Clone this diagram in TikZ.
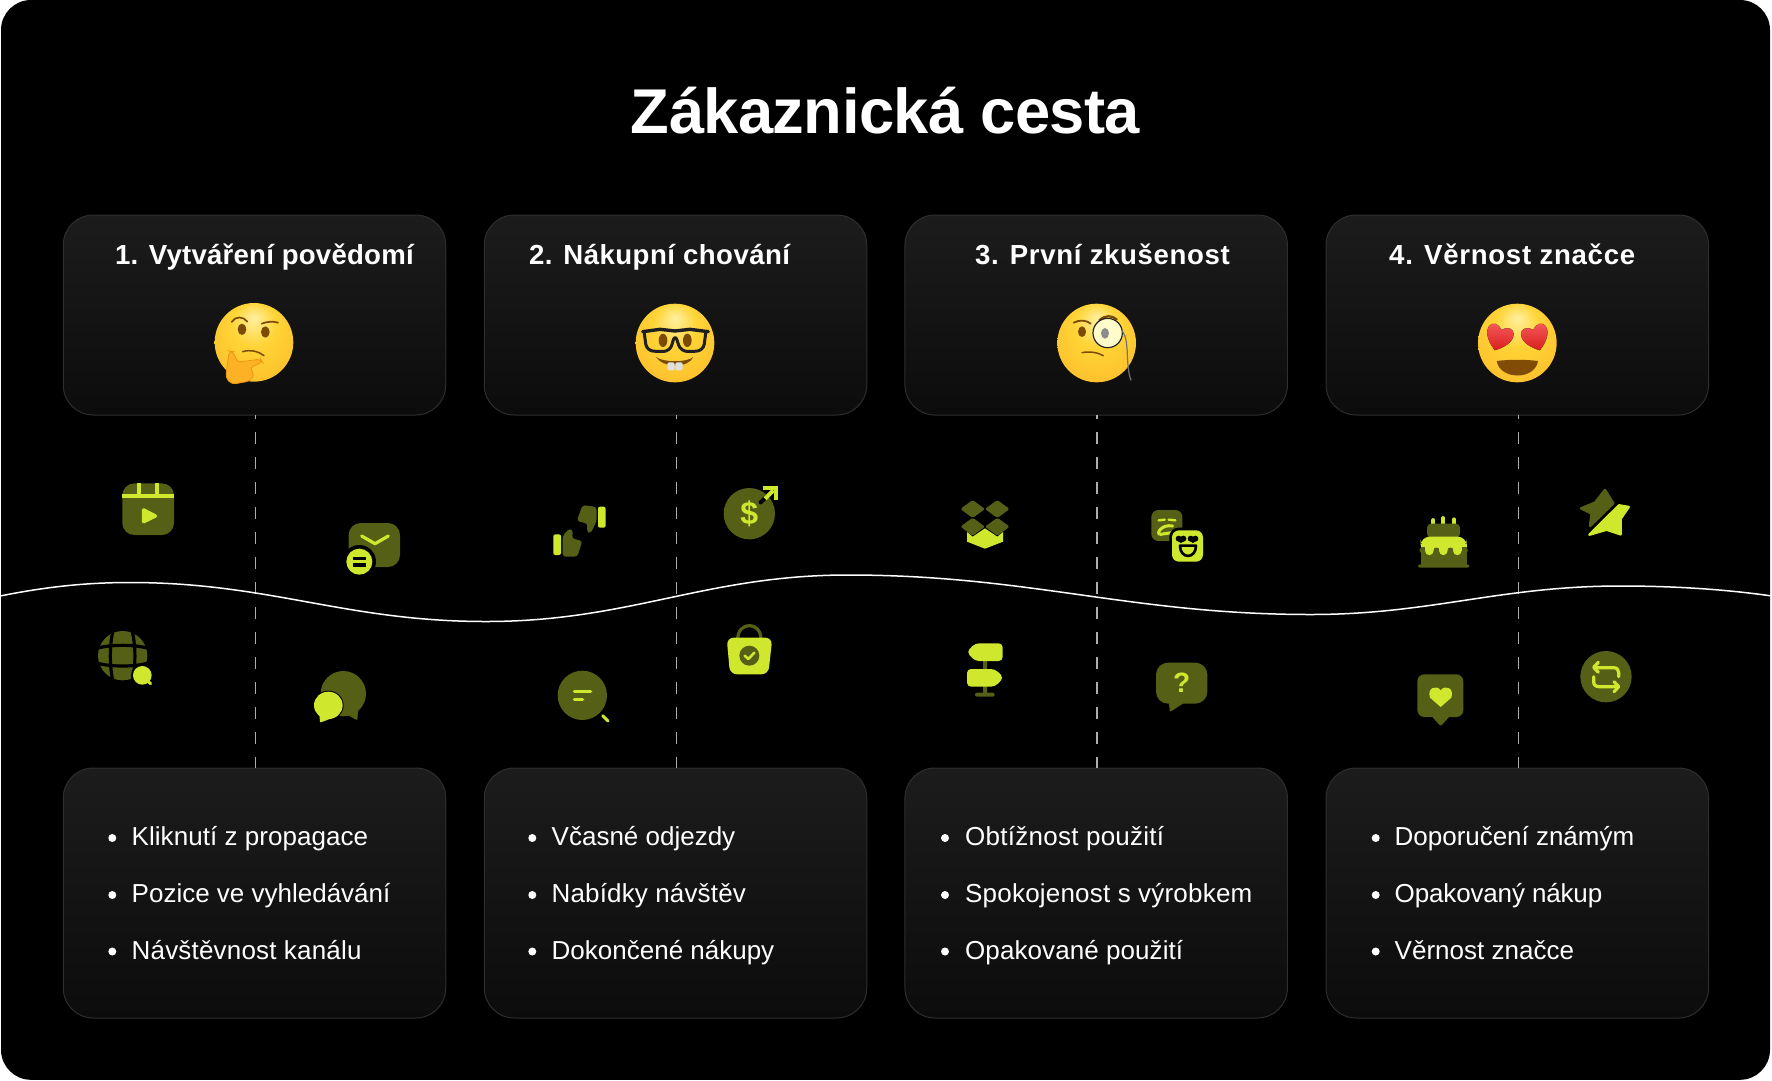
\documentclass[tikz,border=0pt]{standalone}
\usepackage{fontspec}
\setmainfont{Liberation Sans}
\definecolor{dk}{HTML}{555F16}
\definecolor{lm}{HTML}{CFE82E}
\definecolor{cardtop}{HTML}{1C1C1C}
\definecolor{cardbot}{HTML}{0C0C0C}
\definecolor{cardline}{HTML}{2E2E2E}
\definecolor{brownE}{HTML}{7A4A06}
\definecolor{handY}{HTML}{FCB224}
\definecolor{emoL}{HTML}{FFF0A0}
\definecolor{emoA}{HTML}{FFD436}
\definecolor{emoB}{HTML}{FDBE2C}
\definecolor{emoC}{HTML}{F0960F}
\definecolor{emoD}{HTML}{CF7008}
\definecolor{hearttop}{HTML}{FF6A6A}
\definecolor{heartbot}{HTML}{D81E1E}
\pgfdeclareradialshading{emo}{\pgfpoint{0bp}{16bp}}{
  color(0bp)=(emoL);
  color(14bp)=(emoA);
  color(34bp)=(emoB);
  color(46bp)=(emoC);
  color(50bp)=(emoD)}
\tikzset{
  zs/.style={x=0.33333pt,y=-0.33333pt},
  card/.style={draw=cardline,line width=1pt,rounded corners=30pt,top color=cardtop,bottom color=cardbot,inner sep=0pt,outer sep=0pt,minimum width=382.5pt},
  toptitle/.style={anchor=base west,inner sep=0pt,text=white,font=\fontsize{27.6}{32}\selectfont\bfseries},
  item/.style={anchor=base west,inner sep=0pt,text=white,font=\fontsize{26}{32}\selectfont},
  dashline/.style={draw=white!68!black,line width=1.5pt,dash pattern=on 12pt off 13pt,dash phase=8pt},
  lmline/.style={draw=lm,line width=3.2pt,line cap=round,line join=round},
  dkline/.style={draw=dk,line width=3.2pt,line cap=round,line join=round},
  blkline/.style={draw=black,line width=3.2pt,line cap=round,line join=round},
  emoji/.style={shading=emo},
}
\newcommand{\heartp}{(0,44) .. controls (-72,-5) and (-32,-56) .. (0,-20) .. controls (32,-56) and (72,-5) .. (0,44) -- cycle}
\newcommand{\ls}[2]{{\addfontfeature{LetterSpace=#1}#2}}
\begin{document}
\begin{tikzpicture}[x=1pt,y=-1pt]
\useasboundingbox (0,-1) rectangle (1772,1079);
\fill[white] (0,-1) rectangle (1772,1079);
\fill[black,rounded corners=30pt] (1,-1) rectangle (1770,1078.8);

\node[anchor=base,inner sep=0pt,text=white,font=\fontsize{63.3}{72}\selectfont\bfseries] (title) at (885.5,132) {\ls{-0.9}{Zákaznická cesta}};

% cards
\node[card,minimum height=200pt] (t1) at (254.5,314) {};
\node[card,minimum height=200pt] (t2) at (675.5,314) {};
\node[card,minimum height=200pt] (t3) at (1096.2,314) {};
\node[card,minimum height=200pt] (t4) at (1517.3,314) {};
\node[card,minimum height=250pt] (b1) at (254.5,892) {};
\node[card,minimum height=250pt] (b2) at (675.5,892) {};
\node[card,minimum height=250pt] (b3) at (1096.2,892) {};
\node[card,minimum height=250pt] (b4) at (1517.3,892) {};

% dashed connectors
\foreach \i in {1,2,3,4}{
  \draw[dashline] ([xshift=1pt]t\i.south) -- ([xshift=1pt]b\i.north);
}

% wave
\coordinate (w0) at (0,595);
\coordinate (w1) at (130,581.5);
\coordinate (w2) at (486,620.5);
\coordinate (w3) at (848,574);
\coordinate (w4) at (1311,613.5);
\coordinate (w5) at (1620,585);
\coordinate (w6) at (1772,595);
\draw[white,line width=1.5pt] (w0) .. controls (45,586) and (85,581.5) .. (w1)
  .. controls (270,581.5) and (345,620.5) .. (w2)
  .. controls (630,620.5) and (705,574) .. (w3)
  .. controls (1030,574) and (1130,613.5) .. (w4)
  .. controls (1430,613.5) and (1500,585) .. (w5)
  .. controls (1680,585) and (1730,589) .. (w6);

% titles
\node[toptitle] (tt1) at (115,263.5) {\ls{0.8}{1. Vytváření povědomí}};
\node[toptitle] (tt2) at (529,263.5) {\ls{1.6}{2. Nákupní chování}};
\node[toptitle] (tt3) at (975,263.5) {\ls{2.3}{3. První zkušenost}};
\node[toptitle] (tt4) at (1389,263.5) {\ls{2.6}{4. Věrnost značce}};

% bullet lists
\foreach \xb/\xt/\a/\b/\c [count=\n] in {
  112.3/131.5/\ls{0.2}{Kliknutí z propagace}/Pozice ve vyhledávání/\ls{0.7}{Návštěvnost kanálu},
  532.3/551.5/Včasné odjezdy/\ls{0.6}{Nabídky návštěv}/Dokončené nákupy,
  945/965/\ls{1.0}{Obtížnost použití}/\ls{0.8}{Spokojenost s výrobkem}/\ls{0.3}{Opakované použití},
  1375.7/1394.5/\ls{-0.1}{Doporučení známým}/\ls{-0.6}{Opakovaný nákup}/\ls{0.1}{Věrnost značce}}{
  \fill[white] (\xb,837) circle[radius=4];
  \fill[white] (\xb,894) circle[radius=4];
  \fill[white] (\xb,950.5) circle[radius=4];
  \node[item] (i\n a) at (\xt,844.5) {\a};
  \node[item] (i\n b) at (\xt,901.5) {\b};
  \node[item] (i\n c) at (\xt,958.5) {\c};
}

% ---------- emoji 1
\begin{scope}[shift={(50,200)},zs]
\fill[emoji] (612,424) circle[radius=118];
\draw[brownE,line width=1.7pt,line cap=round] (545,363) .. controls (555,345) and (580,345) .. (592,362);
\draw[brownE,line width=1.7pt,line cap=round] (635,368) .. controls (650,362) and (670,360) .. (684,365);
\fill[brownE] (576,385) ellipse[x radius=13,y radius=17];
\fill[brownE] (646,393) ellipse[x radius=13,y radius=17];
\draw[brownE,line width=1.5pt,line cap=round] (578,452) .. controls (600,445) and (625,450) .. (642,464);
\filldraw[fill=handY,draw=emoC,line width=.8pt,rounded corners=4pt] (538,450) -- (550,452) -- (562,484) -- (632,474) -- (638,484) -- (598,500) -- (614,520) -- (600,540) -- (545,550) -- (527,530) -- (532,490) -- cycle;
\end{scope}
% ---------- emoji 2
\begin{scope}[shift={(620,290)},zs]
\fill[emoji] (165,156) circle[radius=118];
\fill[brownE] (129,148) ellipse[x radius=13,y radius=20];
\fill[brownE] (202,148) ellipse[x radius=13,y radius=20];
\draw[black!88,line width=3pt,rounded corners=7pt,line join=round] (72,120) -- (80,180) -- (150,182) -- (165,128) -- (182,182) -- (250,180) -- (258,120);
\draw[black!88,line width=3.4pt,line cap=round] (68,122) -- (120,115) -- (165,120) -- (210,115) -- (265,122);
\fill[brownE] (108,198) .. controls (130,215) and (200,215) .. (220,198) .. controls (205,232) and (130,232) .. (108,198) -- cycle;
\fill[white!88!black,rounded corners=2pt] (142,214) rectangle (164,238);
\fill[white!88!black,rounded corners=2pt] (166,214) rectangle (188,238);
\end{scope}
% ---------- emoji 3
\begin{scope}[shift={(620,290)},zs]
\fill[emoji] (1430,156) circle[radius=118];
\fill[brownE] (1386,122) ellipse[x radius=12,y radius=16];
\draw[brownE,line width=1.8pt,line cap=round] (1361,95) .. controls (1380,85) and (1400,88) .. (1412,98);
\draw[brownE,line width=2.2pt,line cap=round] (1438,88) .. controls (1455,72) and (1475,72) .. (1490,85);
\filldraw[fill=white!80!yellow,draw=black!85,line width=1.2pt] (1463,126) circle[radius=44];
\fill[black!45] (1455,127) ellipse[x radius=12,y radius=16];
\draw[black!55,line width=1.2pt] (1507,120) .. controls (1530,150) and (1515,220) .. (1533,268);
\draw[brownE,line width=1.5pt,line cap=round] (1386,185) .. controls (1410,180) and (1435,185) .. (1450,194);
\end{scope}
% ---------- emoji 4
\begin{scope}[shift={(1460,290)},zs]
\fill[emoji] (172,156) circle[radius=118];
\begin{scope}[shift={(118,136)},rotate=-18]
\fill[top color=hearttop,bottom color=heartbot] \heartp;
\end{scope}
\begin{scope}[shift={(226,136)},rotate=18]
\fill[top color=hearttop,bottom color=heartbot] \heartp;
\end{scope}
\fill[brownE!95!orange] (110,210) .. controls (150,205) and (195,205) .. (234,210) .. controls (225,268) and (120,268) .. (110,210) -- cycle;
\end{scope}

% ---------- column 1 icons
\begin{scope}[shift={(80,460)},zs]
% reel
\fill[dk,rounded corners=12pt] (127,67) rectangle (282,222);
\fill[lm] (127,100) rectangle (282,111);
\fill[lm] (172,67) rectangle (183,100);
\fill[lm] (226,67) rectangle (237,100);
\filldraw[lm,line width=3.5pt,line join=round] (191,147) -- (226,165) -- (191,182) -- cycle;
% mail
\fill[dk,rounded corners=12pt] (806,186) rectangle (960,318);
\draw[lmline] (845,225) -- (885,248) -- (925,225);
\fill[black] (838,302) circle[radius=50];
\fill[lm] (838,302) circle[radius=39];
\draw[blkline,line cap=butt] (818,292) -- (858,292);
\draw[blkline,line cap=butt] (818,312) -- (858,312);
% globe
\fill[dk] (128,584) circle[radius=74];
\draw[blkline,line cap=butt] (100,505) .. controls (88,550) and (88,620) .. (100,665);
\draw[blkline,line cap=butt] (155,505) .. controls (168,550) and (168,620) .. (155,665);
\draw[blkline,line cap=butt] (50,562) .. controls (90,550) and (165,550) .. (205,562);
\draw[blkline,line cap=butt] (50,606) .. controls (90,618) and (165,618) .. (205,606);
\fill[black] (187,643) circle[radius=34];
\fill[lm] (187,643) circle[radius=28];
\draw[lm,line width=3pt,line cap=round] (203,660) -- (212,668);
% chat
\fill[dk] (790,698) circle[radius=68];
\fill[dk,rounded corners=1pt] (790,755) -- (832,778) -- (835,740) -- cycle;
\fill[black] (745,733) ellipse[x radius=46,y radius=44];
\fill[lm] (745,733) ellipse[x radius=43,y radius=41];
\fill[lm,rounded corners=1pt] (718,755) -- (720,785) -- (765,768) -- cycle;
\end{scope}

% ---------- column 2 icons
\begin{scope}[shift={(520,460)},zs]
% thumbs
\fill[lm,rounded corners=2pt] (100,220) rectangle (123,282);
\fill[dk,rounded corners=3pt] (128,225) -- (148,202) -- (160,210) -- (155,232) -- (187,240) -- (172,287) -- (128,287) -- cycle;
\fill[lm,rounded corners=2pt] (234,137) rectangle (257,200);
\fill[dk,rounded corners=3pt] (230,180) -- (212,217) -- (200,212) -- (203,188) -- (170,180) -- (188,132) -- (230,138) -- cycle;
% dollar
\fill[dk] (688,158) circle[radius=77];
\draw[black,line width=4pt,line cap=round] (722,124) -- (760,88);
\draw[lm,line width=4pt] (735,113) -- (760,88);
\draw[lm,line width=4.2pt] (730,80) -- (768,80) -- (768,117);
\node[inner sep=0pt,text=lm,font=\fontsize{32}{32}\selectfont\bfseries] (dollar) at (688,158) {\$};
% bag
\draw[dkline,line cap=butt] (653,535) .. controls (653,480) and (723,480) .. (723,535);
\fill[lm,rounded corners=7pt] (620,530) -- (757,530) -- (745,640) -- (630,640) -- cycle;
\fill[dk] (688,584) circle[radius=30];
\draw[lm,line width=2.6pt,line cap=round,line join=round] (674,584) -- (685,594) -- (703,575);
% magnifier
\fill[dk] (187,703) circle[radius=74];
\draw[lmline] (163,691) -- (212,691);
\draw[lmline] (163,715) -- (188,715);
\draw[lm,line width=3pt,line cap=round] (248,764) -- (264,780);
\end{scope}

% ---------- column 3 icons
\begin{scope}[shift={(930,470)},zs]
\fill[lm,line join=round] (111,183) -- (128,197) -- (165,172) -- (202,197) -- (219,183) -- (219,212) -- (165,233) -- (111,212) -- cycle;
\foreach \cx/\cy in {128/114,202/114,128/167,202/167}{
  \fill[dk,rounded corners=1.5pt] (\cx-37,\cy) -- (\cx,\cy-27) -- (\cx+37,\cy) -- (\cx,\cy+27) -- cycle;
}
% faces
\fill[dk,rounded corners=7pt] (664,117) rectangle (757,210);
\draw[lm,line width=2.4pt,line cap=round] (686,148) -- (704,146);
\draw[lm,line width=2.4pt,line cap=round] (716,146) -- (736,148);
\draw[lm,line width=3pt,line cap=round] (728,165) .. controls (695,158) and (675,190) .. (692,190) -- (725,185);
\fill[black,rounded corners=9pt] (718,170) rectangle (827,280);
\fill[lm,rounded corners=7pt] (726,178) rectangle (819,272);
\fill[black] (746,203) circle[radius=9];
\fill[black] (760,203) circle[radius=9];
\fill[black] (753,216) -- (738,206) -- (768,206) -- cycle;
\fill[black] (782,203) circle[radius=9];
\fill[black] (796,203) circle[radius=9];
\fill[black] (789,216) -- (774,206) -- (804,206) -- cycle;
\filldraw[draw=black,fill=lm,line width=2.6pt,line join=round] (750,224) -- (798,224) .. controls (798,265) and (750,265) .. (750,224) -- cycle;
% sign
\fill[dk,rounded corners=1pt] (159,565) rectangle (171,600);
\fill[dk,rounded corners=1pt] (159,640) rectangle (171,670);
\fill[dk,rounded corners=2pt] (135,665) rectangle (194,677);
\fill[lm,rounded corners=4pt] (110,543) -- (135,517) -- (218,517) -- (218,570) -- (135,570) -- cycle;
\fill[lm,rounded corners=4pt] (111,594) -- (195,594) -- (221,620) -- (195,647) -- (111,647) -- cycle;
% question
\fill[dk,rounded corners=12pt] (678,575) rectangle (832,698);
\fill[dk,rounded corners=1pt] (716,690) -- (720,723) -- (768,692) -- cycle;
\node[inner sep=0pt,text=lm,font=\fontsize{28}{28}\selectfont\bfseries] (qmark) at (755,636) {?};
\end{scope}

% ---------- column 4 icons
\begin{scope}[shift={(1380,470)},zs]
% cake
\foreach \cx/\ty in {160/143,190/137,222/141}{
  \draw[lm,line width=3.8pt,line cap=round] (\cx,\ty+4) -- (\cx,158);
}
\fill[dk,rounded corners=4pt] (141,158) -- (240,158) -- (240,200) -- (141,200) -- cycle;
\fill[dk] (122,225) rectangle (260,283);
\fill[dk,rounded corners=1.5pt] (114,280) rectangle (268,290);
\fill[lm,rounded corners=9pt] (122,232) -- (122,197) -- (260,197) -- (260,232) -- cycle;
\fill[lm] (122,218) rectangle (260,228);
\foreach \cx in {148,190,232}{ \fill[lm] (\cx,240) circle[radius=12.5]; \fill[lm] (\cx-12.5,225) rectangle (\cx+12.5,240);}
\foreach \cx in {127,169,211,255}{ \fill[dk] (\cx,238) circle[radius=8.5]; }
% star
\filldraw[fill=dk,draw=dk,line width=2.5pt,line join=round] (675,57) -- (700,97) -- (630,165) -- (635,128) -- (603,112) -- (645,95) -- cycle;
\filldraw[fill=lm,draw=lm,line width=2.5pt,line join=round] (746,108) -- (722,143) -- (722,190) -- (680,176) -- (628,191) -- (717,103) -- cycle;
% heart bubble
\fill[dk,rounded corners=7pt] (112,610) rectangle (250,738);
\fill[dk,rounded corners=2pt] (150,730) -- (182,766) -- (214,730) -- cycle;
\fill[lm] (182,708) -- (150,680) .. controls (140,650) and (170,640) .. (182,658) .. controls (194,640) and (224,650) .. (214,680) -- cycle;
% repeat
\fill[dk] (678,617) circle[radius=77];
\draw[lmline] (642,590) -- (700,590) .. controls (712,590) and (716,597) .. (716,605) -- (716,617);
\draw[lmline] (655,574) -- (641,589) -- (655,604);
\draw[lmline] (641,617) -- (641,632) .. controls (641,642) and (647,647) .. (658,647) -- (715,647);
\draw[lmline] (702,632) -- (716,647) -- (702,662);
\end{scope}
\end{tikzpicture}
\end{document}
